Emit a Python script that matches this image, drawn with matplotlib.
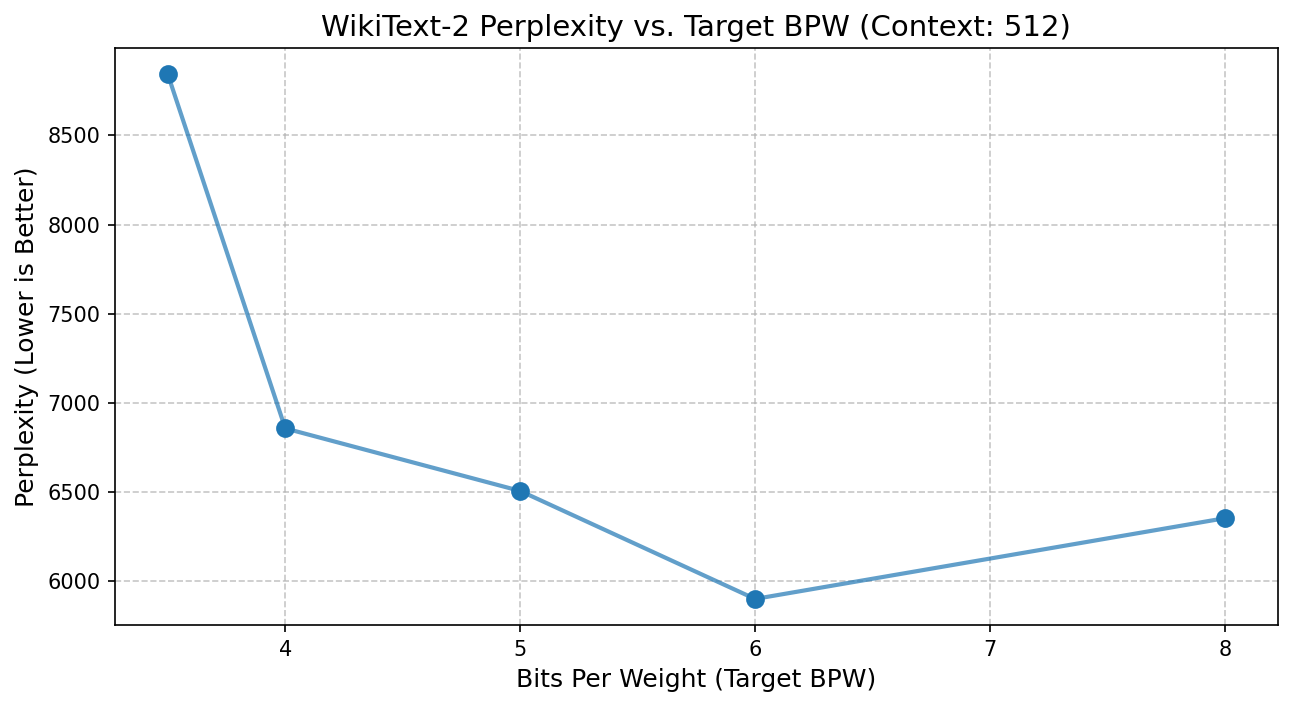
import matplotlib
matplotlib.use("Agg")
import matplotlib.pyplot as plt

# target bits per weight and measured perplexity
bpw = [3.5, 4, 5, 6, 8]
perplexity = [8843, 6856, 6505, 5899, 6352]

fig, ax = plt.subplots(figsize=(8.613, 4.72), dpi=150)
ax.plot(bpw, perplexity, color='#1f77b4', linewidth=2, alpha=0.7)
ax.plot(bpw, perplexity, 'o', color='#1f77b4', markersize=8)
ax.set_title('WikiText-2 Perplexity vs. Target BPW (Context: 512)', fontsize=14)
ax.set_xlabel('Bits Per Weight (Target BPW)', fontsize=12)
ax.set_ylabel('Perplexity (Lower is Better)', fontsize=12)
ax.grid(True, linestyle='--', alpha=0.7)
fig.subplots_adjust(left=0.089, right=0.989, top=0.932, bottom=0.117)
fig.savefig('out.png')
